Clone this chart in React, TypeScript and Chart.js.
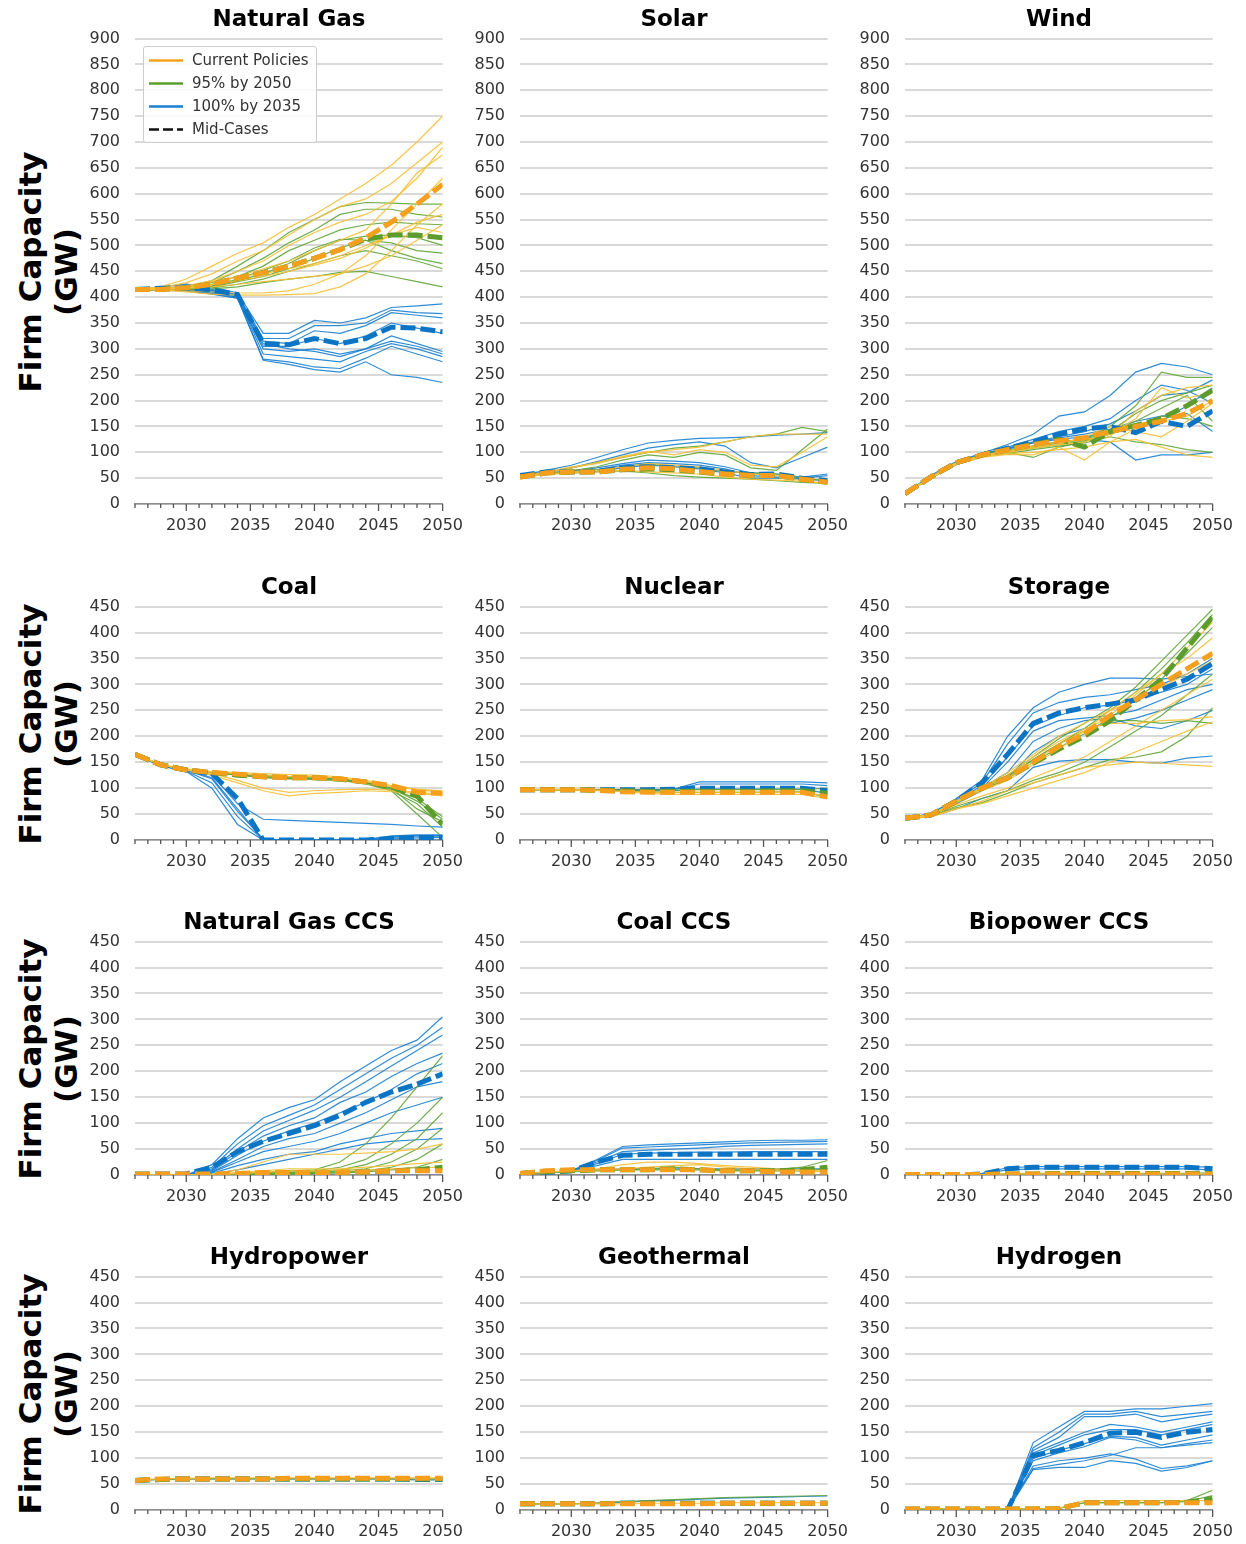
import React, { useEffect, useRef } from 'react';
import { Chart, registerables } from 'chart.js';
Chart.register(...registerables);

// ---------- shared axis data ----------
const years = [2026, 2028, 2030, 2032, 2034, 2036, 2038, 2040, 2042, 2044, 2046, 2048, 2050];
const xLabelYears = [2030, 2035, 2040, 2045, 2050];
const firstYear = 2026;
const lastYear = 2050;
const yStep = 50;

// ---------- Natural Gas ----------
const ngCur = [
  [415, 420, 435, 460, 485, 505, 535, 560, 590, 620, 655, 700, 750],
  [415, 418, 428, 445, 470, 490, 520, 550, 575, 590, 620, 660, 700],
  [415, 416, 422, 432, 450, 470, 500, 525, 545, 560, 585, 630, 690],
  [415, 415, 418, 425, 440, 455, 470, 490, 510, 530, 580, 640, 675],
  [415, 414, 412, 410, 408, 408, 412, 425, 445, 480, 530, 580, 630],
  [415, 414, 410, 406, 404, 404, 405, 407, 420, 445, 490, 540, 580],
  [415, 416, 420, 430, 440, 445, 455, 465, 480, 500, 520, 545, 560],
  [415, 415, 417, 420, 425, 430, 435, 440, 445, 460, 480, 510, 540],
  [415, 416, 418, 424, 432, 440, 450, 462, 475, 495, 520, 535, 525],
];
const ngCurMid = [415, 415, 418, 425, 437, 447, 460, 475, 492, 515, 545, 580, 618];
const ngN95 = [
  [415, 416, 420, 432, 460, 490, 525, 550, 575, 583, 582, 580, 580],
  [415, 416, 419, 428, 450, 475, 505, 530, 560, 570, 570, 560, 555],
  [415, 415, 418, 425, 440, 460, 490, 510, 530, 540, 545, 542, 540],
  [415, 415, 417, 422, 432, 445, 465, 490, 510, 518, 520, 515, 500],
  [415, 414, 416, 420, 430, 440, 455, 475, 495, 510, 505, 490, 485],
  [415, 414, 415, 418, 425, 435, 450, 465, 480, 490, 480, 470, 455],
  [415, 414, 414, 416, 420, 428, 435, 440, 448, 450, 440, 430, 420],
  [415, 415, 416, 421, 435, 452, 470, 495, 512, 510, 490, 475, 465],
];
const ngN95Mid = [415, 415, 418, 425, 437, 447, 460, 475, 492, 512, 520, 520, 515];
const ngH100 = [
  [415, 420, 425, 420, 408, 330, 330, 355, 350, 360, 380, 383, 387],
  [415, 418, 420, 415, 405, 320, 320, 345, 345, 350, 375, 370, 368],
  [415, 416, 418, 412, 403, 315, 310, 335, 330, 345, 370, 365, 360],
  [415, 415, 416, 410, 402, 305, 305, 320, 310, 325, 350, 340, 330],
  [415, 414, 415, 410, 400, 300, 295, 300, 290, 300, 325, 310, 295],
  [415, 414, 414, 408, 400, 290, 285, 280, 275, 295, 310, 300, 285],
  [415, 413, 413, 407, 398, 280, 275, 265, 262, 282, 305, 290, 275],
  [415, 413, 412, 406, 398, 278, 270, 260, 255, 275, 250, 245, 235],
  [415, 415, 417, 413, 404, 310, 300, 295, 285, 300, 315, 305, 290],
];
const ngH100Mid = [415, 417, 418, 414, 405, 310, 308, 320, 310, 320, 342, 340, 333];

// ---------- Solar ----------
const solarCur = [
  [52, 62, 72, 78, 90, 100, 105, 110, 120, 130, 135, 135, 135],
  [52, 60, 70, 80, 92, 102, 95, 105, 100, 75, 72, 100, 130],
  [52, 58, 62, 65, 72, 78, 75, 72, 65, 58, 55, 45, 40],
  [52, 57, 60, 62, 65, 62, 60, 58, 52, 48, 46, 44, 40],
];
const solarCurMid = [52, 60, 62, 62, 67, 70, 68, 63, 58, 55, 55, 48, 42];
const solarN95 = [
  [52, 60, 70, 80, 90, 100, 108, 112, 120, 130, 135, 148, 140],
  [52, 58, 64, 72, 85, 95, 90, 100, 95, 70, 65, 105, 145],
  [52, 58, 60, 62, 64, 60, 55, 52, 50, 48, 45, 42, 40],
  [52, 58, 62, 66, 72, 78, 72, 70, 62, 60, 58, 50, 45],
];
const solarN95Mid = [52, 60, 62, 62, 66, 68, 66, 62, 58, 55, 55, 48, 42];
const solarH100 = [
  [55, 65, 75, 90, 105, 118, 123, 127, 128, 130, 133, 135, 138],
  [55, 62, 70, 82, 95, 108, 115, 120, 112, 80, 70, 90, 110],
  [55, 60, 64, 70, 78, 85, 83, 80, 72, 60, 58, 52, 58],
  [55, 60, 62, 66, 75, 80, 78, 75, 68, 55, 52, 50, 55],
  [55, 58, 60, 63, 70, 75, 72, 68, 60, 50, 50, 48, 45],
];
const solarH100Mid = [55, 62, 62, 63, 70, 72, 70, 68, 62, 57, 58, 50, 45];

// ---------- Wind ----------
const windCur = [
  [20, 52, 78, 93, 100, 108, 115, 120, 135, 165, 225, 205, 215],
  [20, 50, 76, 90, 96, 95, 110, 85, 120, 145, 160, 170, 200],
  [20, 50, 78, 92, 98, 100, 105, 110, 120, 125, 110, 95, 90],
  [20, 52, 80, 94, 103, 112, 120, 125, 130, 180, 210, 225, 230],
  [20, 51, 79, 93, 101, 110, 115, 130, 150, 140, 130, 160, 195],
];
const windCurMid = [20, 52, 80, 95, 105, 115, 122, 128, 140, 150, 160, 175, 200];
const windN95 = [
  [20, 52, 80, 95, 104, 112, 120, 125, 150, 190, 255, 245, 245],
  [20, 51, 79, 94, 100, 90, 110, 120, 140, 175, 200, 215, 230],
  [20, 50, 78, 92, 98, 105, 112, 118, 130, 120, 115, 105, 100],
  [20, 52, 80, 95, 103, 110, 118, 125, 140, 160, 185, 210, 160],
  [20, 51, 79, 93, 101, 108, 115, 122, 135, 150, 170, 165, 150],
];
const windN95Mid = [20, 52, 80, 95, 105, 115, 125, 110, 140, 152, 165, 190, 220];
const windH100 = [
  [20, 55, 82, 98, 115, 135, 170, 178, 210, 255, 272, 265, 250],
  [20, 52, 80, 96, 110, 125, 140, 150, 165, 200, 230, 220, 195],
  [20, 50, 78, 94, 108, 120, 130, 140, 155, 180, 210, 215, 240],
  [20, 50, 76, 92, 104, 112, 120, 125, 120, 85, 95, 95, 100],
  [20, 51, 79, 95, 106, 118, 128, 135, 145, 160, 170, 175, 140],
  [20, 52, 80, 95, 107, 118, 125, 130, 138, 150, 160, 190, 225],
];
const windH100Mid = [20, 52, 80, 95, 108, 120, 135, 145, 150, 138, 160, 150, 180];

// ---------- Coal ----------
const coalCur = [
  [165, 146, 137, 132, 130, 128, 126, 125, 122, 115, 105, 98, 95],
  [165, 145, 136, 131, 128, 124, 122, 122, 120, 113, 103, 97, 92],
  [165, 145, 135, 125, 110, 95, 85, 90, 92, 95, 93, 90, 85],
  [165, 145, 135, 128, 115, 100, 92, 95, 97, 98, 96, 92, 88],
];
const coalCurMid = [165, 145, 135, 130, 127, 122, 120, 120, 118, 112, 105, 92, 90];
const coalN95 = [
  [165, 145, 135, 130, 127, 123, 120, 118, 115, 110, 100, 75, 40],
  [165, 145, 135, 130, 125, 120, 118, 117, 115, 108, 95, 70, 25],
  [165, 145, 135, 130, 126, 122, 120, 120, 118, 112, 100, 60, 35],
  [165, 145, 135, 130, 127, 124, 122, 122, 118, 112, 95, 50, 5],
  [165, 145, 135, 130, 126, 121, 119, 119, 116, 110, 98, 80, 45],
];
const coalN95Mid = [165, 145, 135, 130, 125, 122, 120, 120, 117, 112, 102, 85, 30];
const coalH100 = [
  [165, 145, 135, 125, 70, 40, 38, 36, 34, 32, 30, 27, 25],
  [165, 144, 135, 120, 60, 0, 0, 0, 0, 0, 8, 10, 10],
  [165, 144, 133, 110, 45, 0, 0, 0, 0, 0, 5, 8, 8],
  [165, 143, 132, 100, 30, 0, 0, 0, 0, 0, 2, 4, 5],
  [165, 144, 134, 118, 55, 2, 0, 0, 0, 2, 6, 8, 8],
];
const coalH100Mid = [165, 145, 135, 128, 80, 0, 0, 0, 0, 0, 3, 5, 5];

// ---------- Nuclear ----------
const nucCur = [
  [97, 97, 96, 95, 93, 90, 88, 88, 88, 88, 88, 88, 80],
  [97, 97, 97, 96, 94, 92, 92, 92, 92, 92, 92, 92, 85],
];
const nucCurMid = [97, 97, 97, 96, 93, 92, 92, 92, 92, 92, 92, 92, 83];
const nucN95 = [
  [97, 97, 97, 96, 94, 93, 92, 92, 92, 92, 93, 93, 82],
  [97, 97, 97, 97, 96, 96, 96, 97, 97, 97, 97, 97, 100],
];
const nucN95Mid = [97, 97, 97, 96, 95, 94, 94, 94, 94, 94, 95, 95, 90];
const nucH100 = [
  [97, 97, 97, 97, 97, 97, 98, 112, 112, 112, 112, 112, 110],
  [97, 97, 97, 97, 96, 96, 97, 108, 108, 108, 108, 108, 105],
  [97, 97, 97, 97, 96, 95, 95, 98, 98, 98, 98, 98, 90],
];
const nucH100Mid = [97, 97, 97, 97, 97, 97, 98, 100, 100, 100, 100, 100, 95];

// ---------- Storage ----------
const storCur = [
  [42, 48, 72, 95, 115, 145, 175, 210, 250, 285, 320, 350, 390],
  [42, 48, 75, 100, 130, 165, 200, 225, 250, 270, 295, 320, 345],
  [42, 46, 68, 85, 100, 120, 140, 160, 190, 220, 250, 280, 310],
  [42, 45, 60, 70, 85, 100, 115, 130, 150, 170, 190, 210, 228],
  [42, 45, 60, 75, 95, 110, 125, 140, 145, 150, 148, 145, 142],
  [42, 48, 75, 100, 125, 160, 190, 215, 225, 225, 230, 232, 238],
  [42, 48, 74, 98, 120, 150, 185, 210, 240, 280, 320, 370, 420],
];
const storCurMid = [42, 48, 75, 100, 120, 150, 180, 205, 240, 270, 300, 330, 360];
const storN95 = [
  [42, 48, 75, 100, 125, 160, 195, 225, 255, 295, 345, 395, 445],
  [42, 48, 75, 100, 122, 155, 185, 215, 250, 285, 330, 380, 435],
  [42, 47, 72, 96, 118, 150, 178, 205, 235, 270, 310, 360, 410],
  [42, 46, 65, 80, 95, 115, 130, 150, 180, 210, 240, 280, 320],
  [42, 46, 62, 72, 90, 110, 125, 140, 155, 160, 170, 200, 255],
  [42, 48, 74, 99, 120, 155, 185, 210, 230, 230, 225, 230, 225],
];
const storN95Mid = [42, 48, 75, 100, 120, 148, 175, 200, 230, 270, 310, 370, 430];
const storH100 = [
  [42, 50, 80, 115, 200, 255, 285, 300, 312, 312, 310, 315, 320],
  [42, 50, 78, 110, 185, 245, 265, 275, 280, 290, 300, 320, 350],
  [42, 48, 75, 105, 160, 220, 240, 255, 260, 270, 285, 300, 330],
  [42, 47, 72, 100, 150, 210, 230, 235, 240, 250, 270, 290, 300],
  [42, 46, 70, 95, 120, 170, 200, 215, 225, 235, 250, 270, 290],
  [42, 45, 60, 80, 95, 140, 152, 155, 155, 150, 148, 158, 162],
  [42, 48, 74, 100, 130, 190, 215, 230, 235, 220, 215, 230, 250],
];
const storH100Mid = [42, 48, 75, 110, 165, 225, 245, 255, 262, 270, 290, 310, 340];

// ---------- Natural Gas CCS ----------
const ngccsCur = [
  [0, 0, 0, 2, 10, 25, 40, 40, 40, 42, 45, 50, 60],
  [0, 0, 0, 1, 5, 8, 12, 12, 12, 15, 18, 22, 25],
  [0, 0, 0, 0, 3, 5, 8, 8, 10, 10, 12, 14, 15],
];
const ngccsCurMid = [2, 2, 2, 2, 3, 5, 5, 5, 5, 6, 8, 8, 8];
const ngccsN95 = [
  [0, 0, 0, 0, 2, 5, 8, 10, 25, 60, 110, 170, 230],
  [0, 0, 0, 0, 1, 3, 5, 8, 15, 30, 60, 100, 150],
  [0, 0, 0, 0, 1, 3, 5, 6, 10, 20, 40, 70, 120],
  [0, 0, 0, 0, 0, 2, 3, 5, 8, 12, 25, 50, 90],
  [0, 0, 0, 0, 0, 1, 2, 3, 5, 8, 15, 30, 60],
  [0, 0, 0, 0, 0, 1, 2, 3, 4, 6, 10, 15, 30],
];
const ngccsN95Mid = [0, 0, 0, 0, 1, 2, 3, 4, 5, 6, 8, 10, 15];
const ngccsH100 = [
  [0, 0, 0, 20, 70, 110, 130, 145, 180, 210, 240, 260, 305],
  [0, 0, 0, 15, 60, 95, 115, 135, 165, 195, 225, 250, 285],
  [0, 0, 0, 12, 50, 85, 105, 125, 150, 180, 210, 240, 270],
  [0, 0, 0, 10, 45, 75, 95, 110, 140, 160, 190, 215, 235],
  [0, 0, 0, 8, 38, 65, 85, 100, 120, 140, 165, 195, 215],
  [0, 0, 0, 6, 30, 55, 70, 80, 100, 120, 145, 170, 180],
  [0, 0, 0, 5, 25, 45, 55, 65, 80, 100, 120, 135, 150],
  [0, 0, 0, 3, 18, 30, 40, 45, 60, 70, 80, 85, 90],
  [0, 0, 0, 2, 10, 20, 30, 40, 50, 60, 65, 68, 70],
];
const ngccsH100Mid = [2, 2, 2, 15, 45, 65, 80, 95, 115, 140, 160, 175, 195];

// ---------- Coal CCS ----------
const coalccsCur = [
  [3, 6, 8, 12, 20, 25, 25, 22, 18, 15, 12, 10, 8],
  [3, 5, 8, 10, 12, 15, 18, 20, 15, 12, 10, 8, 6],
];
const coalccsCurMid = [3, 8, 10, 10, 10, 10, 10, 10, 8, 8, 6, 6, 6];
const coalccsN95 = [
  [3, 5, 8, 10, 10, 12, 15, 12, 10, 10, 10, 15, 28],
  [3, 5, 7, 8, 10, 10, 10, 10, 8, 8, 8, 8, 12],
];
const coalccsN95Mid = [3, 6, 8, 10, 10, 10, 12, 10, 8, 8, 8, 10, 15];
const coalccsH100 = [
  [3, 5, 8, 30, 55, 58, 60, 62, 64, 66, 67, 67, 68],
  [3, 5, 8, 28, 52, 54, 56, 58, 60, 62, 63, 64, 65],
  [3, 5, 8, 25, 45, 48, 50, 52, 55, 57, 58, 59, 60],
  [3, 5, 8, 22, 40, 42, 43, 44, 44, 45, 45, 45, 45],
  [3, 5, 8, 18, 30, 30, 30, 30, 30, 30, 30, 30, 30],
  [3, 5, 8, 10, 12, 12, 12, 12, 12, 12, 12, 12, 12],
];
const coalccsH100Mid = [3, 5, 8, 25, 38, 40, 40, 40, 40, 40, 40, 40, 40];

// ---------- Biopower CCS ----------
const bioccsCur = [[1, 1, 1, 1, 2, 2, 2, 2, 2, 2, 2, 2, 2]];
const bioccsCurMid = [1, 1, 1, 1, 2, 2, 2, 2, 2, 2, 2, 2, 2];
const bioccsN95 = [[1, 1, 1, 1, 2, 3, 3, 3, 3, 3, 3, 3, 4]];
const bioccsN95Mid = [1, 1, 1, 1, 2, 2, 3, 3, 3, 3, 3, 3, 3];
const bioccsH100 = [
  [0, 0, 0, 3, 14, 16, 16, 16, 16, 16, 16, 16, 15],
  [0, 0, 0, 2, 10, 12, 12, 12, 12, 12, 12, 12, 10],
];
const bioccsH100Mid = [0, 0, 0, 2, 12, 15, 15, 15, 15, 15, 15, 15, 12];

// ---------- Hydropower ----------
const hydroCur = [[58, 60, 61, 62, 62, 62, 62, 62, 62, 62, 62, 62, 62]];
const hydroCurMid = [57, 60, 60, 60, 60, 60, 61, 61, 61, 61, 61, 61, 61];
const hydroN95 = [[57, 59, 60, 60, 60, 60, 60, 60, 60, 60, 60, 60, 60]];
const hydroN95Mid = [57, 59, 60, 60, 60, 60, 60, 60, 60, 60, 60, 60, 60];
const hydroH100 = [[57, 59, 60, 60, 60, 60, 60, 60, 60, 60, 60, 58, 58]];
const hydroH100Mid = [57, 59, 60, 60, 60, 60, 60, 60, 60, 60, 60, 59, 59];

// ---------- Geothermal ----------
const geoCur = [[12, 12, 12, 12, 12, 13, 13, 13, 14, 14, 14, 14, 14]];
const geoCurMid = [12, 12, 12, 12, 12, 12, 12, 12, 13, 13, 13, 13, 13];
const geoN95 = [[12, 12, 12, 14, 16, 18, 20, 22, 24, 25, 26, 27, 28]];
const geoN95Mid = [12, 12, 12, 12, 13, 13, 13, 13, 13, 13, 13, 13, 13];
const geoH100 = [[12, 12, 12, 13, 15, 17, 19, 21, 23, 24, 25, 26, 27]];
const geoH100Mid = [12, 12, 12, 12, 13, 13, 13, 13, 13, 13, 13, 13, 13];

// ---------- Hydrogen ----------
const h2Cur = [[2, 2, 2, 2, 2, 2, 3, 18, 18, 18, 18, 18, 18]];
const h2CurMid = [2, 2, 2, 2, 2, 2, 3, 14, 14, 14, 14, 14, 14];
const h2N95 = [
  [2, 2, 2, 2, 2, 2, 3, 14, 14, 14, 14, 18, 38],
  [2, 2, 2, 2, 2, 2, 3, 14, 14, 14, 14, 16, 28],
];
const h2N95Mid = [2, 2, 2, 2, 2, 2, 3, 14, 14, 14, 14, 15, 22];
const h2H100 = [
  [0, 0, 0, 0, 0, 130, 160, 190, 190, 195, 195, 200, 205],
  [0, 0, 0, 0, 0, 120, 150, 185, 185, 190, 180, 185, 190],
  [0, 0, 0, 0, 0, 115, 140, 180, 180, 185, 170, 178, 185],
  [0, 0, 0, 0, 0, 110, 130, 150, 165, 160, 150, 160, 170],
  [0, 0, 0, 0, 0, 105, 125, 145, 155, 155, 145, 155, 165],
  [0, 0, 0, 0, 0, 100, 115, 128, 142, 140, 125, 135, 145],
  [0, 0, 0, 0, 0, 95, 110, 122, 140, 135, 120, 128, 135],
  [0, 0, 0, 0, 0, 85, 95, 100, 108, 98, 80, 85, 95],
  [0, 0, 0, 0, 0, 80, 88, 95, 105, 120, 120, 125, 130],
  [0, 0, 0, 0, 0, 78, 82, 82, 95, 90, 75, 82, 95],
];
const h2H100Mid = [0, 0, 0, 0, 0, 105, 115, 130, 148, 150, 140, 150, 155];

// ---------- panels (built from the arrays above) ----------
const panels = [
  { title: 'Natural Gas', max: 900, cur: ngCur, curMid: ngCurMid, n95: ngN95, n95Mid: ngN95Mid, h100: ngH100, h100Mid: ngH100Mid },
  { title: 'Solar', max: 900, cur: solarCur, curMid: solarCurMid, n95: solarN95, n95Mid: solarN95Mid, h100: solarH100, h100Mid: solarH100Mid },
  { title: 'Wind', max: 900, cur: windCur, curMid: windCurMid, n95: windN95, n95Mid: windN95Mid, h100: windH100, h100Mid: windH100Mid },
  { title: 'Coal', max: 450, cur: coalCur, curMid: coalCurMid, n95: coalN95, n95Mid: coalN95Mid, h100: coalH100, h100Mid: coalH100Mid },
  { title: 'Nuclear', max: 450, cur: nucCur, curMid: nucCurMid, n95: nucN95, n95Mid: nucN95Mid, h100: nucH100, h100Mid: nucH100Mid },
  { title: 'Storage', max: 450, cur: storCur, curMid: storCurMid, n95: storN95, n95Mid: storN95Mid, h100: storH100, h100Mid: storH100Mid },
  { title: 'Natural Gas CCS', max: 450, cur: ngccsCur, curMid: ngccsCurMid, n95: ngccsN95, n95Mid: ngccsN95Mid, h100: ngccsH100, h100Mid: ngccsH100Mid },
  { title: 'Coal CCS', max: 450, cur: coalccsCur, curMid: coalccsCurMid, n95: coalccsN95, n95Mid: coalccsN95Mid, h100: coalccsH100, h100Mid: coalccsH100Mid },
  { title: 'Biopower CCS', max: 450, cur: bioccsCur, curMid: bioccsCurMid, n95: bioccsN95, n95Mid: bioccsN95Mid, h100: bioccsH100, h100Mid: bioccsH100Mid },
  { title: 'Hydropower', max: 450, cur: hydroCur, curMid: hydroCurMid, n95: hydroN95, n95Mid: hydroN95Mid, h100: hydroH100, h100Mid: hydroH100Mid },
  { title: 'Geothermal', max: 450, cur: geoCur, curMid: geoCurMid, n95: geoN95, n95Mid: geoN95Mid, h100: geoH100, h100Mid: geoH100Mid },
  { title: 'Hydrogen', max: 450, cur: h2Cur, curMid: h2CurMid, n95: h2N95, n95Mid: h2N95Mid, h100: h2H100, h100Mid: h2H100Mid },
];

const legendItems = [
  { label: 'Current Policies', color: '#f7a21b', dashed: false },
  { label: '95% by 2050', color: '#5a9e2f', dashed: false },
  { label: '100% by 2035', color: '#1a7fd0', dashed: false },
  { label: 'Mid-Cases', color: '#111111', dashed: true },
];

// ---------- styling / layout ----------
const FONT = "'DejaVu Sans', 'Liberation Sans', sans-serif";
const COLORS = {
  orangeThin: 'rgba(246, 192, 52, 0.9)',
  greenThin: 'rgba(96, 165, 56, 0.9)',
  blueThin: 'rgba(24, 128, 210, 0.9)',
  orange: '#f59f1c',
  green: '#5c9c2c',
  blue: '#0b74c4',
};
const colLeft = [135, 520, 905];
const plotW = 308;
const rowTop = [39, 607, 942, 1277];
const rowH = [465, 233, 233, 233];
const padTop = 12;
const yAxisW = 55;
const xAxisH = 40;
const padRight = 25;

const tickMarks = {
  id: 'tickMarks',
  afterDraw(chart: any) {
    const xs = chart.scales.x;
    const ctx = chart.ctx;
    const yb = chart.chartArea.bottom;
    ctx.save();
    ctx.strokeStyle = '#555555';
    ctx.lineWidth = 1.3;
    for (let yr = firstYear; yr <= lastYear; yr++) {
      const px = xs.getPixelForValue(yr);
      const len = yr % 5 === 0 ? 7 : 4;
      ctx.beginPath();
      ctx.moveTo(px, yb);
      ctx.lineTo(px, yb + len);
      ctx.stroke();
    }
    ctx.restore();
  },
};

const toXY = (vals: number[]) => vals.map((v, i) => ({ x: years[i], y: v }));

function Panel({ p, row, col }: any) {
  const ref = useRef<HTMLCanvasElement>(null);
  const w = yAxisW + plotW + padRight;
  const h = padTop + rowH[row] + xAxisH;
  useEffect(() => {
    const canvas = ref.current as HTMLCanvasElement;
    const datasets: any[] = [];
    const thin = (arr: number[][], color: string, order: number) =>
      arr.forEach((v) =>
        datasets.push({ data: toXY(v), borderColor: color, borderWidth: 1.2, pointRadius: 0, order, fill: false })
      );
    const mid = (v: number[], color: string, order: number) =>
      datasets.push({
        data: toXY(v), borderColor: color, borderWidth: 5, borderDash: [15, 5], borderCapStyle: 'butt',
        pointRadius: 0, order, fill: false,
      });
    thin(p.h100, COLORS.blueThin, 30);
    thin(p.n95, COLORS.greenThin, 20);
    thin(p.cur, COLORS.orangeThin, 10);
    mid(p.h100Mid, COLORS.blue, 3);
    mid(p.n95Mid, COLORS.green, 2);
    mid(p.curMid, COLORS.orange, 1);
    const tickFont = { family: FONT, size: 16 };
    const chart = new Chart(canvas, {
      type: 'line',
      data: { datasets },
      plugins: [tickMarks],
      options: {
        animation: false,
        responsive: false,
        maintainAspectRatio: false,
        layout: { padding: { top: padTop, right: padRight, bottom: 0, left: 0 } },
        plugins: { legend: { display: false }, tooltip: { enabled: false }, title: { display: false } },
        elements: { line: { tension: 0 } },
        scales: {
          x: {
            type: 'linear',
            min: firstYear,
            max: lastYear,
            afterBuildTicks: (s: any) => {
              s.ticks = xLabelYears.map((v) => ({ value: v }));
            },
            ticks: { font: tickFont, color: '#333333', padding: 5, maxRotation: 0, autoSkip: false, callback: (v: any) => String(v) },
            grid: { display: true, drawOnChartArea: false, drawTicks: true, tickLength: 7, color: 'rgba(0,0,0,0)' },
            border: { display: true, color: '#8c8c8c', width: 1.5 },
            afterFit: (s: any) => {
              s.height = xAxisH;
            },
          },
          y: {
            min: 0,
            max: p.max,
            ticks: { stepSize: yStep, font: tickFont, color: '#333333', padding: 15 },
            grid: { color: '#d9d9d9', lineWidth: 2, drawTicks: false },
            border: { display: false },
            afterFit: (s: any) => {
              s.width = yAxisW;
            },
          },
        },
      } as any,
    });
    // keep the plotting area where the layout wants it
    const dTop = Math.round(chart.chartArea.top - padTop);
    const dLeft = Math.round(chart.chartArea.left - yAxisW);
    if (dTop !== 0 || dLeft !== 0) {
      canvas.style.top = `${rowTop[row] - padTop - dTop}px`;
      canvas.style.left = `${colLeft[col] - yAxisW - dLeft}px`;
      chart.resize(w + dLeft, h + dTop);
    }
    return () => chart.destroy();
  }, []);
  return (
    <>
      <canvas
        ref={ref}
        width={w}
        height={h}
        style={{ position: 'absolute', left: colLeft[col] - yAxisW, top: rowTop[row] - padTop, width: w, height: h }}
      />
      <div
        style={{
          position: 'absolute', left: colLeft[col], top: rowTop[row] - 34, width: plotW, height: 26,
          lineHeight: '26px', textAlign: 'center', fontFamily: FONT, fontWeight: 'bold', fontSize: 23, color: '#000',
        }}
      >
        {p.title}
      </div>
    </>
  );
}

function Legend() {
  return (
    <div
      style={{
        position: 'absolute', left: 143, top: 46, width: 174, height: 97, boxSizing: 'border-box',
        border: '1px solid #cccccc', borderRadius: 3, background: 'rgba(255,255,255,0.85)',
        fontFamily: FONT, fontSize: 15, color: '#333333',
      }}
    >
      {legendItems.map((it, i) => (
        <div key={it.label} style={{ position: 'absolute', left: 0, top: 2 + i * 23, height: 23, width: 172 }}>
          <svg width={40} height={23} style={{ position: 'absolute', left: 3, top: 0 }}>
            <line
              x1={2} y1={11.5} x2={36} y2={11.5} stroke={it.color} strokeWidth={2.5}
              strokeDasharray={it.dashed ? '10,4' : undefined}
            />
          </svg>
          <span style={{ position: 'absolute', left: 48, top: 0, lineHeight: '23px', whiteSpace: 'nowrap' }}>{it.label}</span>
        </div>
      ))}
    </div>
  );
}

function RowLabel({ row }: any) {
  const cy = rowTop[row] + rowH[row] / 2;
  return (
    <div
      style={{
        position: 'absolute', left: 48, top: cy, transform: 'translate(-50%, -50%) rotate(-90deg)',
        fontFamily: FONT, fontWeight: 'bold', fontSize: 31, lineHeight: '36px', textAlign: 'center',
        whiteSpace: 'nowrap', color: '#000',
      }}
    >
      <div>Firm Capacity</div>
      <div>(GW)</div>
    </div>
  );
}

export default function App() {
  return (
    <div style={{ position: 'absolute', left: 0, top: 0, width: 1246, height: 1544, background: '#fff', overflow: 'hidden' }}>
      {[0, 1, 2, 3].map((r) => (
        <RowLabel key={'rl' + r} row={r} />
      ))}
      {panels.map((p, i) => (
        <Panel key={p.title} p={p} row={Math.floor(i / 3)} col={i % 3} />
      ))}
      <Legend />
    </div>
  );
}
